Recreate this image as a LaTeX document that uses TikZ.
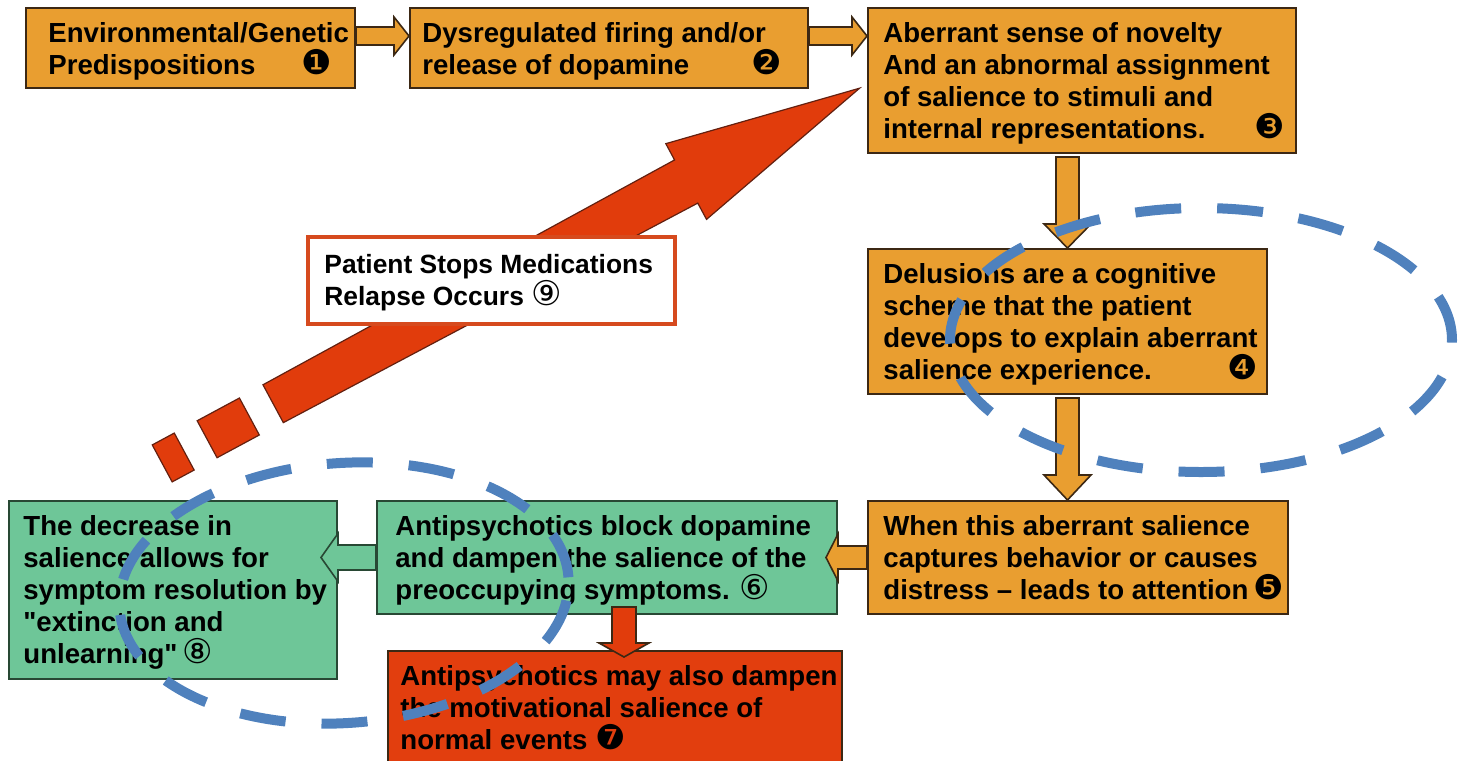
\documentclass[tikz,border=0pt]{standalone}
\usepackage{fontspec}
\setmainfont{Liberation Sans}[Ligatures=TeXOff]
\newfontfamily\numfont{DejaVu Sans}
\usetikzlibrary{calc}
\definecolor{orfill}{RGB}{233,158,48}
\definecolor{grfill}{RGB}{110,198,152}
\definecolor{rdfill}{RGB}{226,62,14}
\definecolor{rdarrow}{RGB}{225,60,12}
\definecolor{rdborder}{RGB}{214,74,30}
\definecolor{edge}{RGB}{60,40,20}
\definecolor{gredge}{RGB}{40,72,52}
\definecolor{ovalblue}{RGB}{79,129,189}
\newcommand\cn[1]{{\numfont\mdseries\fontsize{17}{16}\selectfont #1}}
\newcommand\fs{\rule{0pt}{17.5pt}}
\newcommand\blockarrow[6][]{%
  \coordinate (bah) at ($(#3)!#6!(#2)$);
  \path[#1] ($(#2)!#4!90:(#3)$) -- ($(bah)!#4!90:(#3)$) -- ($(bah)!#5!90:(#3)$) -- (#3)
    -- ($(bah)!#5!-90:(#3)$) -- ($(bah)!#4!-90:(#3)$) -- ($(#2)!#4!-90:(#3)$) -- cycle;}
\tikzset{
  boxbase/.style={rectangle, anchor=north west, inner sep=0pt, line width=1pt},
  obox/.style={boxbase, draw=edge, fill=orfill},
  gbox/.style={boxbase, draw=gredge, fill=grfill},
  rbox/.style={boxbase, draw=edge, fill=rdfill},
  wbox/.style={boxbase, draw=rdborder, fill=white, line width=2pt},
  txt/.style={anchor=north west, inner sep=0pt, align=left, text=black,
    font=\fontsize{13.8}{16}\selectfont\bfseries},
  oarrow/.style={fill=orfill, draw=edge, line width=0.8pt, line join=miter},
  garrow/.style={fill=grfill, draw=gredge, line width=0.8pt},
  rarrow/.style={fill=rdarrow, draw=edge, line width=0.8pt},
  bigred/.style={fill=rdarrow, draw=edge!80!red, line width=0.6pt},
  oval/.style={draw=ovalblue, line width=5pt, dash pattern=on 23pt off 18pt},
}
\begin{document}
\begin{tikzpicture}[x=0.5pt, y=-0.5pt]
\useasboundingbox (0,0) rectangle (1458,761);
\clip (0,0) rectangle (1458,761);

% boxes
\node[obox, minimum width=164.5pt, minimum height=40pt] (b1) at (25,7) {};
\node[obox, minimum width=199pt, minimum height=40pt] (b2) at (409,7) {};
\node[obox, minimum width=214pt, minimum height=72.5pt] (b3) at (867,7) {};
\node[obox, minimum width=199.5pt, minimum height=72.5pt] (b4) at (867,248) {};
\node[obox, minimum width=210pt, minimum height=56.5pt] (b5) at (867,500) {};
\node[gbox, minimum width=230pt, minimum height=56.5pt] (b6) at (376,500) {};
\node[gbox, minimum width=164pt, minimum height=89pt] (b8) at (8,500) {};
\node[rbox, minimum width=227pt, minimum height=60pt] (b7) at (387,650) {};

% relapse arrow (dashed start, big head)
\begin{scope}[shift={(162.2,463.4)}, rotate=28.28]
  \coordinate (relapseStart) at (0,0);
  \coordinate (relapseTip) at (792,0);
  \path[bigred] (0,-21) rectangle (25,21);
  \path[bigred] (51,-21) rectangle (99,21);
  \path[bigred] (126,-21.5) -- (595,-24.5) -- (595,-43) -- (relapseTip)
     -- (595,43) -- (595,24.5) -- (126,21.5) -- cycle;
\end{scope}

\node[wbox, minimum width=183.5pt, minimum height=43.5pt] (b9) at (306,235) {};

% connector end points
\coordinate (s12) at (b1.east |- 0,36);
\coordinate (e12) at (b2.west |- 0,36);
\coordinate (s23) at (b2.east |- 0,36);
\coordinate (e23) at (b3.west |- 0,36);
\coordinate (s34) at ($(b3.south -| b4.north)+(0,3)$);
\coordinate (e34) at (b4.north);
\coordinate (s45) at ($(b4.south)+(0,3)$);
\coordinate (e45) at (b4.south |- b5.north);
\coordinate (s56) at (b5.west);
\coordinate (e56) at ($(b6.east)+(-12,0)$);
\coordinate (s68) at (b6.west);
\coordinate (e68) at ($(b8.east |- b6.west)+(-17,0)$);
\coordinate (s67) at ($(b6.south west)+(248,-8)$);
\coordinate (e67) at ($(b7.north west)+(237,7)$);

\blockarrow[oarrow]{s12}{e12}{4.5pt}{9.5pt}{7.5pt}
\blockarrow[oarrow]{s23}{e23}{4.5pt}{9.5pt}{7.5pt}
\blockarrow[oarrow]{s34}{e34}{5.75pt}{11.75pt}{12pt}
\blockarrow[oarrow]{s45}{e45}{5.75pt}{11.75pt}{12.5pt}
\blockarrow[oarrow]{s56}{e56}{5.75pt}{11.75pt}{6pt}
\blockarrow[garrow]{s68}{e68}{6.25pt}{12pt}{8.5pt}
\blockarrow[rarrow]{s67}{e67}{6pt}{12.5pt}{7pt}

% texts
\node[txt] (t1) at ($(b1.north west)+(23,0)$) {\fs Environmental/Genetic\\\makebox[142pt][l]{Predispositions\hfill\cn{❶}}};
\node[txt] (t2) at ($(b2.north west)+(13,0)$) {\fs Dysregulated firing and/or\\\makebox[180pt][l]{release of dopamine\hfill\cn{❷}}};
\node[txt] (t3) at ($(b3.north west)+(16,0)$) {\fs Aberrant sense of novelty\\And an abnormal assignment\\of salience to stimuli and\\\makebox[201pt][l]{internal representations.\hfill\cn{❸}}};
\node[txt] (t4) at ($(b4.north west)+(16,0)$) {\fs Delusions are a cognitive\\scheme that the patient\\develops to explain aberrant\\\makebox[187.5pt][l]{salience experience.\hfill\cn{❹}}};
\node[txt] (t5) at ($(b5.north west)+(16,0)$) {\fs When this aberrant salience\\captures behavior or causes\\distress – leads to attention\,\cn{❺}};
\node[txt] (t6) at ($(b6.north west)+(19,0)$) {\fs Antipsychotics block dopamine\\and dampen the salience of the\\preoccupying symptoms. \cn{⑥}};
\node[txt] (t7) at ($(b7.north west)+(13,0)$) {\fs Antipsychotics may also dampen\\the motivational salience of\\normal events \cn{❼}};
\node[txt] (t8) at ($(b8.north west)+(15,0)$) {\fs The decrease in\\salience allows for\\symptom resolution by\\"extinction and\\unlearning"\,\cn{⑧}};
\node[txt, font=\fontsize{13.2}{16}\selectfont\bfseries] (t9) at ($(b9.north west)+(18,3)$) {\fs Patient Stops Medications\\Relapse Occurs \cn{⑨}};

% dashed ovals
\draw[oval] (1201,340) ellipse [x radius=125.5pt, y radius=66pt];
\draw[oval, rotate around={4:(344,593)}] (344,593) ellipse [x radius=112.5pt, y radius=65pt];
\end{tikzpicture}
\end{document}
